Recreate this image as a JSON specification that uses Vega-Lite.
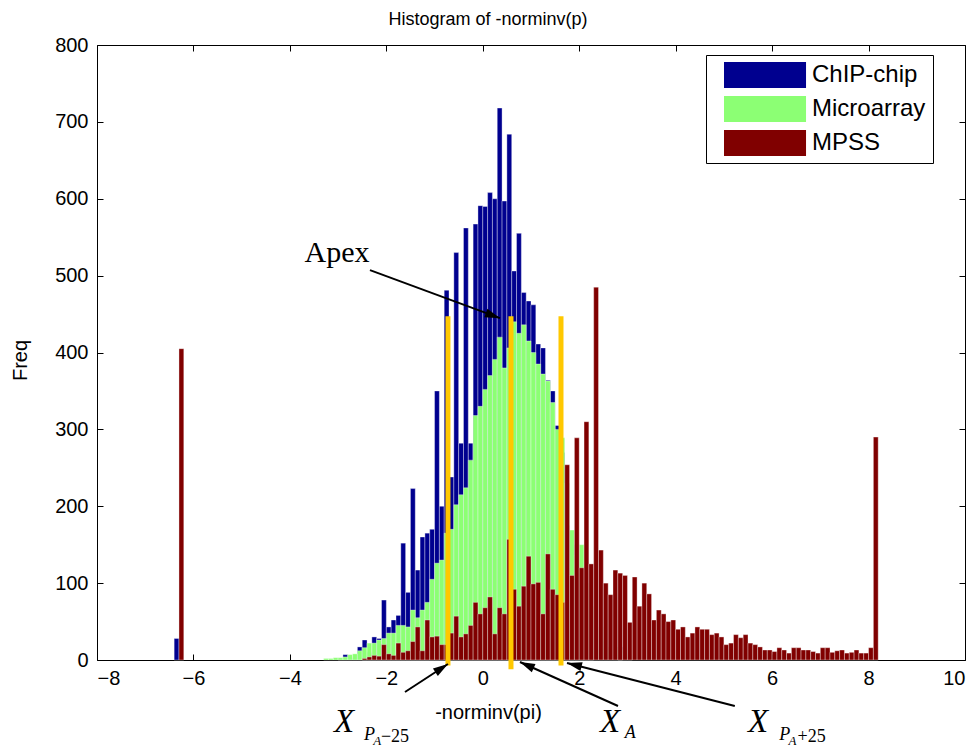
{
  "$schema": "https://vega.github.io/schema/vega-lite/v6.json",
  "width": 868,
  "height": 615,
  "autosize": {"type": "none"},
  "padding": {"left": 97, "top": 45, "right": 15, "bottom": 89},
  "background": "white",
  "title": {"text": "Histogram of -norminv(p)", "fontSize": 18, "fontWeight": "normal", "font": "Liberation Sans", "color": "black", "dx": -43, "offset": 6},
  "config": {
    "view": {"stroke": "black", "strokeWidth": 1},
    "axis": {"labelFont": "Liberation Sans", "labelFontSize": 20, "labelColor": "black", "tickColor": "black", "domainColor": "black", "grid": false, "titleFont": "Liberation Sans", "titleFontSize": 20, "titleFontWeight": "normal", "titleColor": "black"}
  },
  "datasets": {
    "bars": [
      {"s":"ChIP-chip","x0":-6.4,"x1":-6.3,"n":28},
      {"s":"ChIP-chip","x0":-3.0,"x1":-2.9,"n":2},
      {"s":"ChIP-chip","x0":-2.9,"x1":-2.8,"n":7},
      {"s":"ChIP-chip","x0":-2.8,"x1":-2.7,"n":3},
      {"s":"ChIP-chip","x0":-2.7,"x1":-2.6,"n":2},
      {"s":"ChIP-chip","x0":-2.6,"x1":-2.5,"n":17},
      {"s":"ChIP-chip","x0":-2.5,"x1":-2.4,"n":26},
      {"s":"ChIP-chip","x0":-2.4,"x1":-2.3,"n":10},
      {"s":"ChIP-chip","x0":-2.3,"x1":-2.2,"n":30},
      {"s":"ChIP-chip","x0":-2.2,"x1":-2.1,"n":28},
      {"s":"ChIP-chip","x0":-2.1,"x1":-2.0,"n":78},
      {"s":"ChIP-chip","x0":-2.0,"x1":-1.9,"n":43},
      {"s":"ChIP-chip","x0":-1.9,"x1":-1.8,"n":52},
      {"s":"ChIP-chip","x0":-1.8,"x1":-1.7,"n":58},
      {"s":"ChIP-chip","x0":-1.7,"x1":-1.6,"n":152},
      {"s":"ChIP-chip","x0":-1.6,"x1":-1.5,"n":88},
      {"s":"ChIP-chip","x0":-1.5,"x1":-1.4,"n":223},
      {"s":"ChIP-chip","x0":-1.4,"x1":-1.3,"n":117},
      {"s":"ChIP-chip","x0":-1.3,"x1":-1.2,"n":160},
      {"s":"ChIP-chip","x0":-1.2,"x1":-1.1,"n":165},
      {"s":"ChIP-chip","x0":-1.1,"x1":-1.0,"n":170},
      {"s":"ChIP-chip","x0":-1.0,"x1":-0.9,"n":350},
      {"s":"ChIP-chip","x0":-0.9,"x1":-0.8,"n":200},
      {"s":"ChIP-chip","x0":-0.8,"x1":-0.7,"n":481},
      {"s":"ChIP-chip","x0":-0.7,"x1":-0.6,"n":238},
      {"s":"ChIP-chip","x0":-0.6,"x1":-0.5,"n":530},
      {"s":"ChIP-chip","x0":-0.5,"x1":-0.4,"n":282},
      {"s":"ChIP-chip","x0":-0.4,"x1":-0.3,"n":562},
      {"s":"ChIP-chip","x0":-0.3,"x1":-0.2,"n":282},
      {"s":"ChIP-chip","x0":-0.2,"x1":-0.1,"n":567},
      {"s":"ChIP-chip","x0":-0.1,"x1":0.0,"n":591},
      {"s":"ChIP-chip","x0":0.0,"x1":0.1,"n":590},
      {"s":"ChIP-chip","x0":0.1,"x1":0.2,"n":608},
      {"s":"ChIP-chip","x0":0.2,"x1":0.3,"n":600},
      {"s":"ChIP-chip","x0":0.3,"x1":0.4,"n":718},
      {"s":"ChIP-chip","x0":0.4,"x1":0.5,"n":597},
      {"s":"ChIP-chip","x0":0.5,"x1":0.6,"n":684},
      {"s":"ChIP-chip","x0":0.6,"x1":0.7,"n":506},
      {"s":"ChIP-chip","x0":0.7,"x1":0.8,"n":555},
      {"s":"ChIP-chip","x0":0.8,"x1":0.9,"n":478},
      {"s":"ChIP-chip","x0":0.9,"x1":1.0,"n":467},
      {"s":"ChIP-chip","x0":1.0,"x1":1.1,"n":462},
      {"s":"ChIP-chip","x0":1.1,"x1":1.2,"n":411},
      {"s":"ChIP-chip","x0":1.2,"x1":1.3,"n":406},
      {"s":"ChIP-chip","x0":1.3,"x1":1.4,"n":364},
      {"s":"ChIP-chip","x0":1.4,"x1":1.5,"n":350},
      {"s":"ChIP-chip","x0":1.5,"x1":1.6,"n":305},
      {"s":"ChIP-chip","x0":1.6,"x1":1.7,"n":270},
      {"s":"ChIP-chip","x0":1.7,"x1":1.8,"n":175},
      {"s":"ChIP-chip","x0":1.8,"x1":1.9,"n":150},
      {"s":"ChIP-chip","x0":1.9,"x1":2.0,"n":120},
      {"s":"ChIP-chip","x0":2.0,"x1":2.1,"n":78},
      {"s":"ChIP-chip","x0":2.1,"x1":2.2,"n":30},
      {"s":"ChIP-chip","x0":2.2,"x1":2.3,"n":5},
      {"s":"ChIP-chip","x0":2.8,"x1":2.9,"n":17},
      {"s":"Microarray","x0":-3.3,"x1":-3.2,"n":2},
      {"s":"Microarray","x0":-3.2,"x1":-3.1,"n":2},
      {"s":"Microarray","x0":-3.1,"x1":-3.0,"n":3},
      {"s":"Microarray","x0":-3.0,"x1":-2.9,"n":3},
      {"s":"Microarray","x0":-2.9,"x1":-2.8,"n":4},
      {"s":"Microarray","x0":-2.8,"x1":-2.7,"n":7},
      {"s":"Microarray","x0":-2.7,"x1":-2.6,"n":8},
      {"s":"Microarray","x0":-2.6,"x1":-2.5,"n":12},
      {"s":"Microarray","x0":-2.5,"x1":-2.4,"n":16},
      {"s":"Microarray","x0":-2.4,"x1":-2.3,"n":22},
      {"s":"Microarray","x0":-2.3,"x1":-2.2,"n":22},
      {"s":"Microarray","x0":-2.2,"x1":-2.1,"n":26},
      {"s":"Microarray","x0":-2.1,"x1":-2.0,"n":28},
      {"s":"Microarray","x0":-2.0,"x1":-1.9,"n":35},
      {"s":"Microarray","x0":-1.9,"x1":-1.8,"n":35},
      {"s":"Microarray","x0":-1.8,"x1":-1.7,"n":45},
      {"s":"Microarray","x0":-1.7,"x1":-1.6,"n":45},
      {"s":"Microarray","x0":-1.6,"x1":-1.5,"n":43},
      {"s":"Microarray","x0":-1.5,"x1":-1.4,"n":65},
      {"s":"Microarray","x0":-1.4,"x1":-1.3,"n":55},
      {"s":"Microarray","x0":-1.3,"x1":-1.2,"n":65},
      {"s":"Microarray","x0":-1.2,"x1":-1.1,"n":75},
      {"s":"Microarray","x0":-1.1,"x1":-1.0,"n":105},
      {"s":"Microarray","x0":-1.0,"x1":-0.9,"n":126},
      {"s":"Microarray","x0":-0.9,"x1":-0.8,"n":130},
      {"s":"Microarray","x0":-0.8,"x1":-0.7,"n":165},
      {"s":"Microarray","x0":-0.7,"x1":-0.6,"n":170},
      {"s":"Microarray","x0":-0.6,"x1":-0.5,"n":202},
      {"s":"Microarray","x0":-0.5,"x1":-0.4,"n":215},
      {"s":"Microarray","x0":-0.4,"x1":-0.3,"n":224},
      {"s":"Microarray","x0":-0.3,"x1":-0.2,"n":260},
      {"s":"Microarray","x0":-0.2,"x1":-0.1,"n":318},
      {"s":"Microarray","x0":-0.1,"x1":0.0,"n":330},
      {"s":"Microarray","x0":0.0,"x1":0.1,"n":352},
      {"s":"Microarray","x0":0.1,"x1":0.2,"n":370},
      {"s":"Microarray","x0":0.2,"x1":0.3,"n":391},
      {"s":"Microarray","x0":0.3,"x1":0.4,"n":420},
      {"s":"Microarray","x0":0.4,"x1":0.5,"n":380},
      {"s":"Microarray","x0":0.5,"x1":0.6,"n":406},
      {"s":"Microarray","x0":0.6,"x1":0.7,"n":440},
      {"s":"Microarray","x0":0.7,"x1":0.8,"n":425},
      {"s":"Microarray","x0":0.8,"x1":0.9,"n":436},
      {"s":"Microarray","x0":0.9,"x1":1.0,"n":415},
      {"s":"Microarray","x0":1.0,"x1":1.1,"n":400},
      {"s":"Microarray","x0":1.1,"x1":1.2,"n":385},
      {"s":"Microarray","x0":1.2,"x1":1.3,"n":372},
      {"s":"Microarray","x0":1.3,"x1":1.4,"n":363},
      {"s":"Microarray","x0":1.4,"x1":1.5,"n":335},
      {"s":"Microarray","x0":1.5,"x1":1.6,"n":300},
      {"s":"Microarray","x0":1.6,"x1":1.7,"n":289},
      {"s":"Microarray","x0":1.7,"x1":1.8,"n":230},
      {"s":"Microarray","x0":1.8,"x1":1.9,"n":169},
      {"s":"Microarray","x0":1.9,"x1":2.0,"n":136},
      {"s":"Microarray","x0":2.0,"x1":2.1,"n":150},
      {"s":"Microarray","x0":2.1,"x1":2.2,"n":100},
      {"s":"Microarray","x0":2.2,"x1":2.3,"n":70},
      {"s":"Microarray","x0":2.3,"x1":2.4,"n":40},
      {"s":"Microarray","x0":2.4,"x1":2.5,"n":43},
      {"s":"Microarray","x0":2.5,"x1":2.6,"n":25},
      {"s":"Microarray","x0":2.6,"x1":2.7,"n":17},
      {"s":"Microarray","x0":2.7,"x1":2.8,"n":17},
      {"s":"Microarray","x0":2.8,"x1":2.9,"n":13},
      {"s":"Microarray","x0":2.9,"x1":3.0,"n":8},
      {"s":"Microarray","x0":3.0,"x1":3.1,"n":5},
      {"s":"MPSS","x0":-6.3,"x1":-6.2,"n":405},
      {"s":"MPSS","x0":-2.5,"x1":-2.4,"n":2},
      {"s":"MPSS","x0":-2.4,"x1":-2.3,"n":4},
      {"s":"MPSS","x0":-2.3,"x1":-2.2,"n":6},
      {"s":"MPSS","x0":-2.2,"x1":-2.1,"n":5},
      {"s":"MPSS","x0":-2.1,"x1":-2.0,"n":20},
      {"s":"MPSS","x0":-2.0,"x1":-1.9,"n":8},
      {"s":"MPSS","x0":-1.9,"x1":-1.8,"n":6},
      {"s":"MPSS","x0":-1.8,"x1":-1.7,"n":22},
      {"s":"MPSS","x0":-1.7,"x1":-1.6,"n":10},
      {"s":"MPSS","x0":-1.6,"x1":-1.5,"n":12},
      {"s":"MPSS","x0":-1.5,"x1":-1.4,"n":24},
      {"s":"MPSS","x0":-1.4,"x1":-1.3,"n":43},
      {"s":"MPSS","x0":-1.3,"x1":-1.2,"n":12},
      {"s":"MPSS","x0":-1.2,"x1":-1.1,"n":52},
      {"s":"MPSS","x0":-1.1,"x1":-1.0,"n":30},
      {"s":"MPSS","x0":-1.0,"x1":-0.9,"n":31},
      {"s":"MPSS","x0":-0.9,"x1":-0.8,"n":20},
      {"s":"MPSS","x0":-0.8,"x1":-0.7,"n":20},
      {"s":"MPSS","x0":-0.7,"x1":-0.6,"n":35},
      {"s":"MPSS","x0":-0.6,"x1":-0.5,"n":57},
      {"s":"MPSS","x0":-0.5,"x1":-0.4,"n":30},
      {"s":"MPSS","x0":-0.4,"x1":-0.3,"n":34},
      {"s":"MPSS","x0":-0.3,"x1":-0.2,"n":45},
      {"s":"MPSS","x0":-0.2,"x1":-0.1,"n":75},
      {"s":"MPSS","x0":-0.1,"x1":0.0,"n":60},
      {"s":"MPSS","x0":0.0,"x1":0.1,"n":68},
      {"s":"MPSS","x0":0.1,"x1":0.2,"n":82},
      {"s":"MPSS","x0":0.2,"x1":0.3,"n":34},
      {"s":"MPSS","x0":0.3,"x1":0.4,"n":68},
      {"s":"MPSS","x0":0.4,"x1":0.5,"n":60},
      {"s":"MPSS","x0":0.5,"x1":0.6,"n":157},
      {"s":"MPSS","x0":0.6,"x1":0.7,"n":92},
      {"s":"MPSS","x0":0.7,"x1":0.8,"n":70},
      {"s":"MPSS","x0":0.8,"x1":0.9,"n":96},
      {"s":"MPSS","x0":0.9,"x1":1.0,"n":135},
      {"s":"MPSS","x0":1.0,"x1":1.1,"n":99},
      {"s":"MPSS","x0":1.1,"x1":1.2,"n":101},
      {"s":"MPSS","x0":1.2,"x1":1.3,"n":60},
      {"s":"MPSS","x0":1.3,"x1":1.4,"n":138},
      {"s":"MPSS","x0":1.4,"x1":1.5,"n":92},
      {"s":"MPSS","x0":1.5,"x1":1.6,"n":85},
      {"s":"MPSS","x0":1.6,"x1":1.7,"n":75},
      {"s":"MPSS","x0":1.7,"x1":1.8,"n":254},
      {"s":"MPSS","x0":1.8,"x1":1.9,"n":110},
      {"s":"MPSS","x0":1.9,"x1":2.0,"n":289},
      {"s":"MPSS","x0":2.0,"x1":2.1,"n":120},
      {"s":"MPSS","x0":2.1,"x1":2.2,"n":310},
      {"s":"MPSS","x0":2.2,"x1":2.3,"n":125},
      {"s":"MPSS","x0":2.3,"x1":2.4,"n":485},
      {"s":"MPSS","x0":2.4,"x1":2.5,"n":143},
      {"s":"MPSS","x0":2.5,"x1":2.6,"n":100},
      {"s":"MPSS","x0":2.6,"x1":2.7,"n":85},
      {"s":"MPSS","x0":2.7,"x1":2.8,"n":117},
      {"s":"MPSS","x0":2.8,"x1":2.9,"n":113},
      {"s":"MPSS","x0":2.9,"x1":3.0,"n":110},
      {"s":"MPSS","x0":3.0,"x1":3.1,"n":49},
      {"s":"MPSS","x0":3.1,"x1":3.2,"n":108},
      {"s":"MPSS","x0":3.2,"x1":3.3,"n":70},
      {"s":"MPSS","x0":3.3,"x1":3.4,"n":100},
      {"s":"MPSS","x0":3.4,"x1":3.5,"n":86},
      {"s":"MPSS","x0":3.5,"x1":3.6,"n":52},
      {"s":"MPSS","x0":3.6,"x1":3.7,"n":65},
      {"s":"MPSS","x0":3.7,"x1":3.8,"n":60},
      {"s":"MPSS","x0":3.8,"x1":3.9,"n":50},
      {"s":"MPSS","x0":3.9,"x1":4.0,"n":52},
      {"s":"MPSS","x0":4.0,"x1":4.1,"n":40},
      {"s":"MPSS","x0":4.1,"x1":4.2,"n":43},
      {"s":"MPSS","x0":4.2,"x1":4.3,"n":30},
      {"s":"MPSS","x0":4.3,"x1":4.4,"n":35},
      {"s":"MPSS","x0":4.4,"x1":4.5,"n":43},
      {"s":"MPSS","x0":4.5,"x1":4.6,"n":40},
      {"s":"MPSS","x0":4.6,"x1":4.7,"n":40},
      {"s":"MPSS","x0":4.7,"x1":4.8,"n":33},
      {"s":"MPSS","x0":4.8,"x1":4.9,"n":35},
      {"s":"MPSS","x0":4.9,"x1":5.0,"n":30},
      {"s":"MPSS","x0":5.0,"x1":5.1,"n":20},
      {"s":"MPSS","x0":5.1,"x1":5.2,"n":22},
      {"s":"MPSS","x0":5.2,"x1":5.3,"n":33},
      {"s":"MPSS","x0":5.3,"x1":5.4,"n":29},
      {"s":"MPSS","x0":5.4,"x1":5.5,"n":33},
      {"s":"MPSS","x0":5.5,"x1":5.6,"n":22},
      {"s":"MPSS","x0":5.6,"x1":5.7,"n":20},
      {"s":"MPSS","x0":5.7,"x1":5.8,"n":17},
      {"s":"MPSS","x0":5.8,"x1":5.9,"n":13},
      {"s":"MPSS","x0":5.9,"x1":6.0,"n":13},
      {"s":"MPSS","x0":6.0,"x1":6.1,"n":11},
      {"s":"MPSS","x0":6.1,"x1":6.2,"n":16},
      {"s":"MPSS","x0":6.2,"x1":6.3,"n":13},
      {"s":"MPSS","x0":6.3,"x1":6.4,"n":9},
      {"s":"MPSS","x0":6.4,"x1":6.5,"n":16},
      {"s":"MPSS","x0":6.5,"x1":6.6,"n":16},
      {"s":"MPSS","x0":6.6,"x1":6.7,"n":13},
      {"s":"MPSS","x0":6.7,"x1":6.8,"n":13},
      {"s":"MPSS","x0":6.8,"x1":6.9,"n":11},
      {"s":"MPSS","x0":6.9,"x1":7.0,"n":9},
      {"s":"MPSS","x0":7.0,"x1":7.1,"n":16},
      {"s":"MPSS","x0":7.1,"x1":7.2,"n":16},
      {"s":"MPSS","x0":7.2,"x1":7.3,"n":10},
      {"s":"MPSS","x0":7.3,"x1":7.4,"n":12},
      {"s":"MPSS","x0":7.4,"x1":7.5,"n":13},
      {"s":"MPSS","x0":7.5,"x1":7.6,"n":9},
      {"s":"MPSS","x0":7.6,"x1":7.7,"n":10},
      {"s":"MPSS","x0":7.7,"x1":7.8,"n":13},
      {"s":"MPSS","x0":7.8,"x1":7.9,"n":9},
      {"s":"MPSS","x0":7.9,"x1":8.0,"n":9},
      {"s":"MPSS","x0":8.0,"x1":8.1,"n":16},
      {"s":"MPSS","x0":8.1,"x1":8.2,"n":290}
    ],
    "markers": [
      {"x": -0.722, "top": 447, "bot": -7},
      {"x": 0.585, "top": 447, "bot": -12},
      {"x": 1.622, "top": 447, "bot": -7}
    ],
    "arrows": [
      {"xa": -2.339, "ya": 507.2, "xb": 0.357, "yb": 444.7, "ang": 110},
      {"xa": -1.613, "ya": -41.6, "xb": -0.722, "yb": -5.2, "ang": 57},
      {"xa": 2.804, "ya": -59.8, "xb": 0.771, "yb": -2.6, "ang": 294},
      {"xa": 5.226, "ya": -59.8, "xb": 1.746, "yb": -3.9, "ang": 284}
    ],
    "bigX": [
      {"t": "X", "x": -2.878, "y": -80.6},
      {"t": "X", "x": 2.64, "y": -80.6},
      {"t": "X", "x": 5.707, "y": -80.6}
    ],
    "subP": [
      {"t": "P", "x": -2.35, "y": -98},
      {"t": "P", "x": 6.26, "y": -98},
      {"t": "A", "x": 3.06, "y": -95}
    ],
    "subA": [
      {"t": "A", "x": -2.19, "y": -106},
      {"t": "A", "x": 6.42, "y": -106}
    ],
    "subN": [
      {"t": "−25", "x": -1.82, "y": -100},
      {"t": "+25", "x": 6.82, "y": -100}
    ],
    "apex": [
      {"t": "Apex", "x": -3.024, "y": 529}
    ]
  },
  "resolve": {"axis": {"x": "independent", "y": "independent"}},
  "layer": [
    {
      "data": {"name": "bars"},
      "mark": {"type": "bar", "stroke": "white", "strokeWidth": 0.5, "strokeOpacity": 0.7},
      "encoding": {
        "x": {"field": "x0", "type": "quantitative", "scale": {"domain": [-8, 10], "nice": false, "zero": false},
              "axis": {"orient": "bottom", "values": [-8,-6,-4,-2,0,2,4,6,8,10], "tickSize": -6, "labelPadding": 14, "domain": false, "title": "-norminv(pi)", "titleX": 391, "titleY": 52, "titleBaseline": "middle", "titleAlign": "center"}},
        "x2": {"field": "x1"},
        "y": {"field": "n", "type": "quantitative", "stack": null, "scale": {"domain": [0, 800], "nice": false},
              "axis": {"orient": "left", "values": [0,100,200,300,400,500,600,700,800], "tickSize": -6, "labelPadding": 15, "domain": false, "title": "Freq", "titleX": -77, "titleY": 315, "titleBaseline": "middle", "titleAlign": "center", "titleAngle": 270}},
        "y2": {"datum": 0},
        "color": {"field": "s", "type": "nominal",
                  "scale": {"domain": ["ChIP-chip", "Microarray", "MPSS"], "range": ["#00008F", "#8CFF74", "#800000"]},
                  "legend": {"orient": "none", "legendX": 609, "legendY": 10, "title": null, "padding": 7, "strokeColor": "black", "fillColor": "white",
                             "symbolType": "M-1,-1H5.31V1H-1Z", "symbolSize": 676, "symbolStrokeWidth": 0, "symbolOpacity": 1, "symbolOffset": 11,
                             "labelOffset": 62, "labelFont": "Liberation Sans", "labelFontSize": 24, "labelColor": "black", "rowPadding": 8, "cornerRadius": 0}}
      }
    },
    {
      "data": {"name": "markers"},
      "mark": {"type": "rule", "color": "#FFC800", "strokeWidth": 5},
      "encoding": {
        "x": {"field": "x", "type": "quantitative", "axis": {"orient": "top", "values": [-8,-6,-4,-2,0,2,4,6,8,10], "labels": false, "domain": false, "tickSize": -6, "title": null}},
        "y": {"field": "top", "type": "quantitative", "axis": {"orient": "right", "values": [0,100,200,300,400,500,600,700,800], "labels": false, "domain": false, "tickSize": -6, "title": null}},
        "y2": {"field": "bot"}
      }
    },
    {
      "data": {"name": "arrows"},
      "mark": {"type": "rule", "color": "black", "strokeWidth": 2},
      "encoding": {
        "x": {"field": "xa", "type": "quantitative", "axis": null},
        "y": {"field": "ya", "type": "quantitative", "axis": null},
        "x2": {"field": "xb"},
        "y2": {"field": "yb"}
      }
    },
    {
      "data": {"name": "arrows"},
      "mark": {"type": "point", "shape": "M0,0L0.6,2L-0.6,2Z", "size": 225, "filled": true, "color": "black", "opacity": 1},
      "encoding": {
        "x": {"field": "xb", "type": "quantitative", "axis": null},
        "y": {"field": "yb", "type": "quantitative", "axis": null},
        "angle": {"field": "ang", "type": "quantitative", "scale": null}
      }
    },
    {
      "data": {"name": "apex"},
      "mark": {"type": "text", "font": "Liberation Serif", "fontSize": 30, "color": "black", "align": "center", "baseline": "middle"},
      "encoding": {
        "x": {"field": "x", "type": "quantitative", "axis": null},
        "y": {"field": "y", "type": "quantitative", "axis": null},
        "text": {"field": "t"}
      }
    },
    {
      "data": {"name": "bigX"},
      "mark": {"type": "text", "font": "Liberation Serif", "fontStyle": "italic", "fontSize": 33, "color": "black", "align": "center", "baseline": "middle"},
      "encoding": {
        "x": {"field": "x", "type": "quantitative", "axis": null},
        "y": {"field": "y", "type": "quantitative", "axis": null},
        "text": {"field": "t"}
      }
    },
    {
      "data": {"name": "subP"},
      "mark": {"type": "text", "font": "Liberation Serif", "fontStyle": "italic", "fontSize": 18, "color": "black", "align": "center", "baseline": "middle"},
      "encoding": {
        "x": {"field": "x", "type": "quantitative", "axis": null},
        "y": {"field": "y", "type": "quantitative", "axis": null},
        "text": {"field": "t"}
      }
    },
    {
      "data": {"name": "subA"},
      "mark": {"type": "text", "font": "Liberation Serif", "fontStyle": "italic", "fontSize": 13, "color": "black", "align": "center", "baseline": "middle"},
      "encoding": {
        "x": {"field": "x", "type": "quantitative", "axis": null},
        "y": {"field": "y", "type": "quantitative", "axis": null},
        "text": {"field": "t"}
      }
    },
    {
      "data": {"name": "subN"},
      "mark": {"type": "text", "font": "Liberation Serif", "fontSize": 18, "color": "black", "align": "center", "baseline": "middle"},
      "encoding": {
        "x": {"field": "x", "type": "quantitative", "axis": null},
        "y": {"field": "y", "type": "quantitative", "axis": null},
        "text": {"field": "t"}
      }
    }
  ]
}
